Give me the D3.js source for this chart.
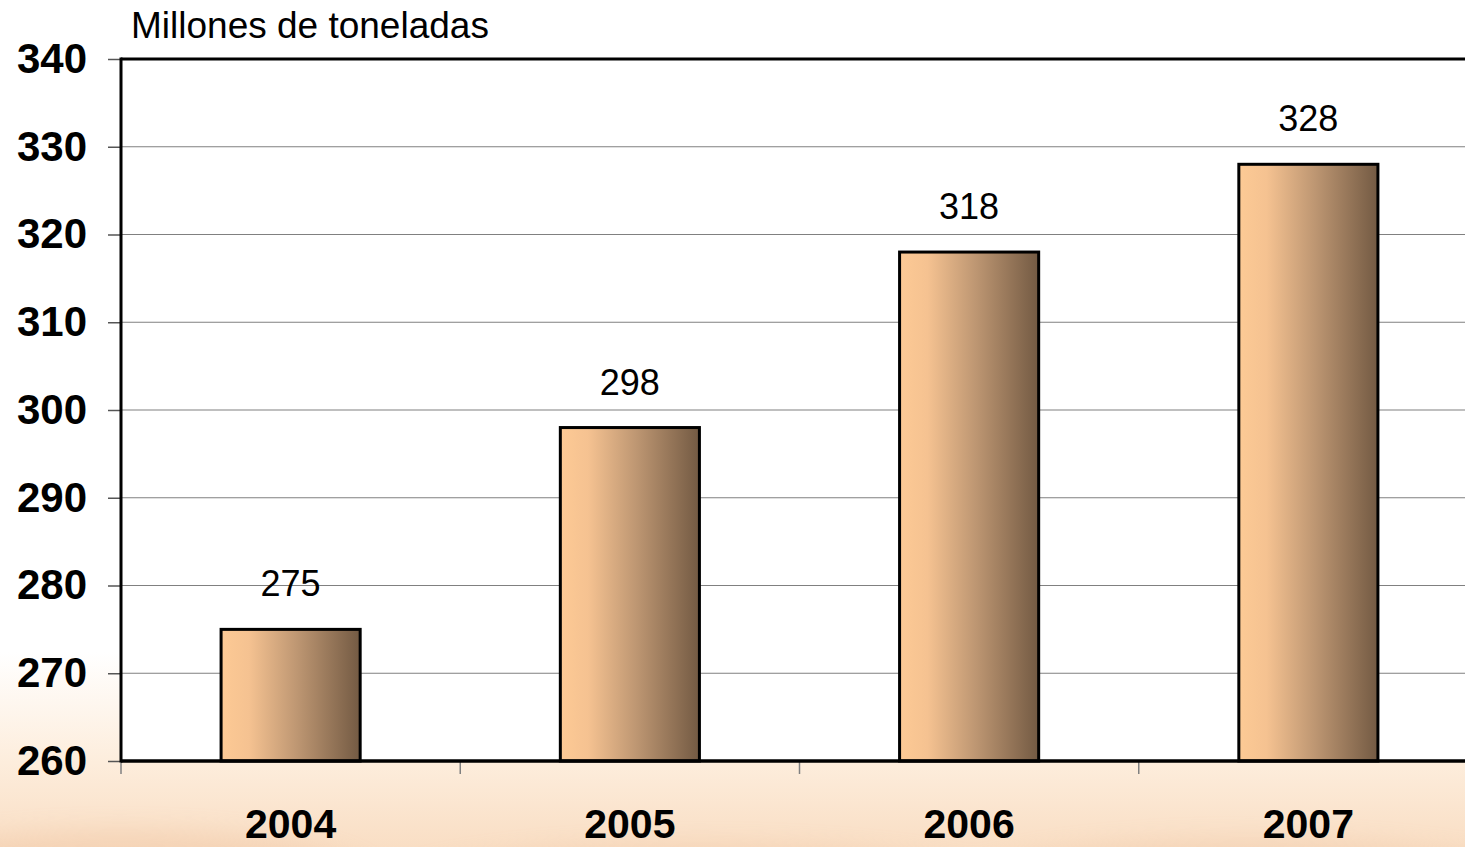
<!DOCTYPE html>
<html>
<head>
<meta charset="utf-8">
<script src="https://cdn.jsdelivr.net/npm/d3@7"></script>
<style>
  html, body { margin: 0; padding: 0; background: #ffffff; }
  svg { display: block; }
</style>
</head>
<body>
<div id="chart"></div>
<script>
const categories = ["2004", "2005", "2006", "2007"];
const values = [275, 298, 318, 328];
const yTicks = [260, 270, 280, 290, 300, 310, 320, 330, 340];
const titleText = "Millones de toneladas";

const W = 1465, H = 847;
const margin = { top: 59, left: 121, bottom: 86 };
const plotW = 1357;
const plotH = H - margin.top - margin.bottom;

const svg = d3.select("#chart").append("svg")
  .attr("width", W).attr("height", H);

const defs = svg.append("defs");
const bg = defs.append("linearGradient").attr("id", "bg")
  .attr("x1", 0).attr("y1", 0).attr("x2", 0).attr("y2", 1);
bg.append("stop").attr("offset", "0%").attr("stop-color", "#ffffff");
bg.append("stop").attr("offset", "77%").attr("stop-color", "#ffffff");
bg.append("stop").attr("offset", "90%").attr("stop-color", "#fdeddc");
bg.append("stop").attr("offset", "100%").attr("stop-color", "#f9dec4");

const barGrad = defs.append("linearGradient").attr("id", "barGrad")
  .attr("x1", 0).attr("y1", 0).attr("x2", 1).attr("y2", 0);
barGrad.append("stop").attr("offset", "0%").attr("stop-color", "#fdca95");
barGrad.append("stop").attr("offset", "20%").attr("stop-color", "#f5c291");
barGrad.append("stop").attr("offset", "55%").attr("stop-color", "#bd9672");
barGrad.append("stop").attr("offset", "100%").attr("stop-color", "#735a43");

const blur = defs.append("filter").attr("id", "blur")
  .attr("x", "-20%").attr("y", "-50%").attr("width", "140%").attr("height", "200%");
blur.append("feGaussianBlur").attr("stdDeviation", 12);

svg.append("rect").attr("width", W).attr("height", H).attr("fill", "url(#bg)");

// faint distant hills in the background photo
const hills = svg.append("g").attr("filter", "url(#blur)").attr("opacity", 0.25);
hills.append("ellipse").attr("cx", 120).attr("cy", 885).attr("rx", 260).attr("ry", 55).attr("fill", "#e9b58e");
hills.append("ellipse").attr("cx", 700).attr("cy", 895).attr("rx", 320).attr("ry", 50).attr("fill", "#eab893");
hills.append("ellipse").attr("cx", 1250).attr("cy", 890).attr("rx", 300).attr("ry", 50).attr("fill", "#e8b995");

const g = svg.append("g").attr("transform", `translate(${margin.left},${margin.top})`);

const x = d3.scaleBand().domain(categories).range([0, plotW]).paddingInner(0.59).paddingOuter(0.295);
const xBand = d3.scaleBand().domain(categories).range([0, plotW]);
const y = d3.scaleLinear().domain([260, 340]).range([plotH, 0]);

// plot background
g.append("rect").attr("width", plotW).attr("height", plotH).attr("fill", "#ffffff");

// gridlines
g.append("g").selectAll("line").data(yTicks.slice(1, -1)).join("line")
  .attr("x1", 0).attr("x2", plotW)
  .attr("y1", d => y(d)).attr("y2", d => y(d))
  .attr("stroke", "#808080").attr("stroke-width", 1.2);

// y axis
const yAxis = g.append("g").call(
  d3.axisLeft(y).tickValues(yTicks).tickSize(13).tickPadding(21).tickFormat(d3.format("d"))
);
yAxis.select(".domain").remove();
yAxis.selectAll(".tick line").attr("stroke", "#555555").attr("stroke-width", 1.5);
yAxis.selectAll(".tick text")
  .attr("font-family", "Liberation Sans, Arial, sans-serif")
  .attr("font-weight", "bold").attr("font-size", 42).attr("fill", "#000");

// x ticks at band boundaries
const xBoundaries = categories.map(c => xBand(c));
g.append("g").selectAll("line").data(xBoundaries).join("line")
  .attr("x1", d => d).attr("x2", d => d)
  .attr("y1", plotH).attr("y2", plotH + 13)
  .attr("stroke", "#808080").attr("stroke-width", 1.5);

// x labels
const xAxis = g.append("g").attr("transform", `translate(0,${plotH})`)
  .call(d3.axisBottom(xBand).tickSize(0).tickPadding(0));
xAxis.select(".domain").remove();
xAxis.selectAll(".tick text")
  .attr("y", 77).attr("dy", 0)
  .attr("font-family", "Liberation Sans, Arial, sans-serif")
  .attr("font-weight", "bold").attr("font-size", 41).attr("fill", "#000");

// bars
g.append("g").selectAll("rect").data(categories).join("rect")
  .attr("x", d => x(d))
  .attr("y", (d, i) => y(values[i]))
  .attr("width", x.bandwidth())
  .attr("height", (d, i) => plotH - y(values[i]))
  .attr("fill", "url(#barGrad)")
  .attr("stroke", "#000").attr("stroke-width", 3);

// value labels
g.append("g").selectAll("text").data(categories).join("text")
  .attr("x", d => x(d) + x.bandwidth() / 2)
  .attr("y", (d, i) => y(values[i]) - 33)
  .attr("text-anchor", "middle")
  .attr("font-family", "Liberation Sans, Arial, sans-serif")
  .attr("font-size", 36).attr("fill", "#000")
  .text((d, i) => values[i]);

// axis frame lines
g.append("line").attr("x1", 0).attr("x2", plotW).attr("y1", 0).attr("y2", 0)
  .attr("stroke", "#000").attr("stroke-width", 3);
g.append("line").attr("x1", 0).attr("x2", plotW).attr("y1", plotH).attr("y2", plotH)
  .attr("stroke", "#000").attr("stroke-width", 3.5);
g.append("line").attr("x1", 0).attr("x2", 0).attr("y1", -1.5).attr("y2", plotH + 1.5)
  .attr("stroke", "#000").attr("stroke-width", 3);

// title
svg.append("text").attr("x", 131).attr("y", 38)
  .attr("font-family", "Liberation Sans, Arial, sans-serif")
  .attr("font-size", 37).attr("fill", "#000")
  .text(titleText);
</script>
</body>
</html>
